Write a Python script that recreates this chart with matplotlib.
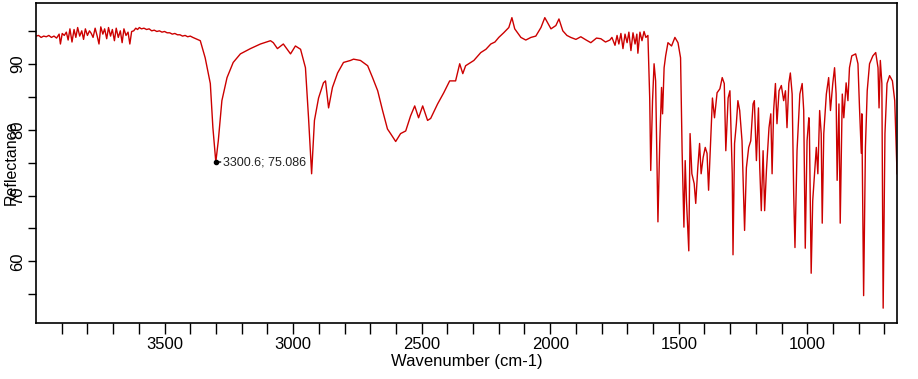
import matplotlib
matplotlib.use("Agg")
import matplotlib.pyplot as plt
from matplotlib.ticker import FixedLocator

plt.rcParams['font.family'] = ['Liberation Sans', 'DejaVu Sans']

# Spectrum: (wavenumber cm-1, reflectance)
wavenumber = [
    4000, 3990, 3980, 3970, 3960, 3950, 3940, 3930, 3920, 3910, 3905, 3898, 3890, 3882, 3875,
    3868, 3860, 3852, 3845, 3838, 3830, 3822, 3815, 3808, 3800, 3792, 3785, 3778, 3770, 3762,
    3755, 3748, 3740, 3733, 3725, 3718, 3710, 3703, 3695, 3688, 3680, 3672, 3665, 3658, 3650,
    3642, 3635, 3628, 3620, 3612, 3605, 3598, 3590, 3580, 3570, 3560, 3550, 3540, 3530, 3520,
    3510, 3500, 3490, 3480, 3470, 3460, 3450, 3440, 3430, 3420, 3410, 3400, 3390,
    3361, 3342, 3322, 3312, 3300.6, 3291, 3277, 3257, 3233, 3205, 3166, 3127, 3088, 3077,
    3061, 3038, 3010, 2991, 2971, 2952, 2940, 2928, 2917, 2901, 2882, 2874, 2862, 2847, 2827,
    2804, 2777, 2765, 2738, 2710, 2691, 2671, 2652, 2633, 2621, 2601, 2582, 2562, 2543, 2527,
    2512, 2496, 2477, 2465, 2438, 2414, 2391, 2368, 2352, 2340, 2329, 2297, 2270, 2250, 2231,
    2215, 2200, 2181, 2161, 2149, 2138, 2114, 2095, 2075, 2056, 2036, 2021, 1997, 1978, 1966,
    1951, 1935, 1920, 1900, 1881, 1860, 1842, 1820, 1803, 1785, 1768,
    1760, 1748, 1740, 1733, 1725, 1717, 1709, 1701, 1694, 1686, 1678, 1670, 1663, 1659, 1651,
    1643, 1635, 1628, 1620,
    1613, 1609, 1602, 1596, 1590, 1581, 1574, 1567, 1563, 1557, 1551, 1542, 1528, 1515, 1503,
    1493, 1487, 1480, 1475, 1470, 1461, 1456, 1449, 1440, 1434, 1426, 1419, 1413, 1405, 1397,
    1390, 1384, 1376, 1369, 1361, 1351, 1340, 1331, 1323, 1317, 1308, 1301, 1292, 1289, 1283,
    1276, 1270, 1263, 1254, 1244, 1237, 1228, 1220, 1211, 1206, 1198, 1190, 1185, 1179, 1172,
    1166, 1159, 1149, 1142, 1137, 1131, 1124, 1118, 1110, 1101, 1092, 1085, 1079, 1072, 1066,
    1059, 1053, 1048, 1040, 1029, 1020, 1014, 1008, 1001, 994, 992, 985, 979, 972, 965,
    959, 952, 946, 942, 936, 926, 917, 910, 901, 894, 888, 884, 877, 872, 864,
    858, 849, 842, 836, 827, 812, 803, 797, 790, 788, 781, 774, 767, 758, 745,
    734, 725, 721, 716, 710, 705, 698, 690, 680, 669, 660, 651,
]
reflectance = [
    94.2, 94.3, 94.0, 94.2, 94.1, 94.3, 94.0, 94.2, 93.9, 94.5, 93.0, 94.6, 94.3, 94.8, 93.6,
    95.3, 93.3, 95.2, 94.0, 95.5, 94.2, 95.0, 93.7, 95.3, 94.3, 95.0, 94.6, 94.0, 95.4, 94.2,
    93.0, 95.6, 94.5, 95.3, 93.8, 95.5, 94.2, 95.2, 93.5, 95.4, 94.0, 95.0, 93.2, 95.3, 94.3,
    94.8, 93.0, 94.9, 95.0, 95.4, 95.2, 95.5, 95.3, 95.4, 95.2, 95.3, 95.0, 95.1, 94.9, 95.0,
    94.8, 94.9, 94.7, 94.7, 94.5, 94.6, 94.4, 94.4, 94.2, 94.3, 94.1, 94.2, 94.0,
    93.5, 90.9, 87.0, 80.3, 75.086, 78.3, 84.4, 87.9, 90.2, 91.5, 92.3, 93.0, 93.5, 93.2,
    92.3, 93.0, 91.5, 92.7, 92.2, 89.4, 81.8, 73.3, 81.4, 84.8, 87.1, 87.4, 83.3, 86.4, 88.6,
    90.2, 90.5, 90.7, 90.5, 89.7, 87.9, 85.9, 82.9, 80.1, 79.4, 78.2, 79.4, 79.8, 82.1, 83.6,
    81.8, 83.6, 81.4, 81.7, 83.9, 85.6, 87.4, 87.4, 90.0, 88.5, 89.7, 90.5, 91.7, 92.2, 93.0,
    93.3, 94.0, 94.7, 95.5, 97.0, 95.3, 94.0, 93.6, 94.0, 94.2, 95.5, 97.0, 95.3, 95.8, 96.8,
    95.0, 94.3, 94.0, 93.7, 94.1, 93.6, 93.2, 93.9, 93.8, 93.3, 93.6,
    94.0, 92.8, 94.3, 93.0, 94.6, 92.3, 94.5, 93.2, 94.8, 92.0, 94.7, 93.0, 94.5, 91.6, 94.8,
    93.5, 94.9, 94.0, 94.3,
    84.8, 73.8, 84.4, 90.0, 87.4, 66.0, 77.9, 86.4, 82.4, 89.4, 91.2, 93.2, 92.7, 94.0, 93.2,
    90.9, 76.8, 65.2, 75.3, 69.2, 61.6, 79.4, 73.3, 71.8, 68.8, 74.2, 77.9, 73.3, 75.8, 77.3,
    76.4, 70.8, 78.3, 84.8, 81.8, 85.6, 86.2, 87.9, 87.0, 76.8, 84.8, 85.9, 73.3, 61.0, 77.9,
    80.9, 84.4, 82.9, 78.3, 64.7, 74.2, 77.3, 78.3, 83.9, 84.4, 75.3, 83.3, 74.2, 67.7, 76.8,
    67.7, 73.8, 80.3, 82.4, 73.3, 82.9, 87.0, 80.9, 85.9, 86.7, 84.4, 85.9, 80.3, 87.0, 88.6,
    85.4, 70.3, 62.1, 76.8, 85.4, 87.0, 82.9, 62.0, 78.3, 81.8, 80.3, 58.2, 69.2, 73.3, 77.3,
    73.3, 82.9, 79.4, 65.8, 79.4, 85.4, 87.9, 82.9, 87.0, 89.4, 85.4, 72.3, 83.9, 65.8, 85.4,
    81.8, 87.1, 84.4, 89.4, 91.2, 91.5, 90.0, 83.3, 76.4, 82.4, 54.8, 77.3, 85.9, 90.0, 91.2,
    91.7, 89.4, 83.3, 90.5, 87.0, 52.9, 79.4, 87.0, 88.2, 87.4, 84.4, 73.3,
]

peak_wn = 3300.6
peak_val = 75.086
peak_label = "3300.6; 75.086"

x_major_labels = [3500, 3000, 2500, 2000, 1500, 1000]
y_major_labels = [60, 70, 80, 90]

W, H = 918, 379
fig = plt.figure(figsize=(W / 100, H / 100), dpi=100)
ax = fig.add_axes([36 / W, (H - 323.3) / H, (897.3 - 36) / W, (323.3 - 2.5) / H])

ax.plot(wavenumber, reflectance, color='#cc0000', lw=1.0)
ax.plot([peak_wn], [peak_val], 'o', color='black', ms=3)
ax.annotate(peak_label, xy=(peak_wn, peak_val), xytext=(5.5, 0), textcoords='offset points',
            va='center', ha='left', fontsize=9, color='#222222',
            arrowprops=dict(arrowstyle='-', color='black', lw=1, shrinkA=0, shrinkB=0))

ax.set_xlim(4000, 650)
ax.set_ylim(50.6, 99.3)

ax.xaxis.set_major_locator(FixedLocator(x_major_labels))
ax.xaxis.set_minor_locator(FixedLocator([v for v in range(700, 4000, 100) if v % 500 != 0]))
ax.yaxis.set_major_locator(FixedLocator(y_major_labels))
ax.yaxis.set_minor_locator(FixedLocator([55, 65, 75, 85, 95]))

ax.tick_params(axis='x', which='both', direction='out', length=8, width=1, pad=2, labelsize=12)
ax.tick_params(axis='y', which='both', direction='out', length=6, width=1, pad=1.5, labelsize=12)
for lab in ax.get_yticklabels():
    lab.set_rotation(90)
    lab.set_va('center')

for s in ax.spines.values():
    s.set_linewidth(1.2)
    s.set_color('black')

ax.set_xlabel("Wavenumber (cm-1)", fontsize=12, labelpad=1)
ax.set_ylabel("Reflectance", fontsize=11.5, va='center')
ax.yaxis.set_label_coords(-0.0285, 0.5)

fig.savefig("out.png", dpi=100)
